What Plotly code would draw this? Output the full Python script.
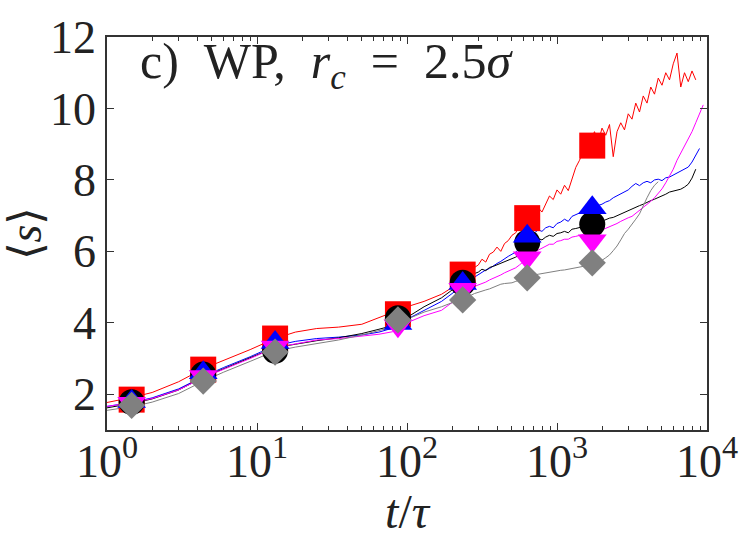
import plotly.graph_objects as go

# ---------------- data ----------------
t_early = [1, 1.5, 2, 3, 4.4, 6, 9, 13, 18, 25, 35, 50, 65, 80, 100, 130, 170, 220, 260]
t_late = [282, 299, 316, 335, 355, 376, 398, 422, 447, 473, 501, 531, 562, 596, 631, 668,
          708, 750, 794, 841, 891, 944, 1000, 1059, 1122, 1189, 1259, 1334, 1413, 1496,
          1585, 1679, 1778, 1884, 1995, 2113, 2239, 2371, 2512, 2661, 2818, 2985, 3162,
          3350, 3548, 3758, 3981, 4217, 4467, 4732, 5012, 5309, 5623, 5957, 6310, 6683,
          7079, 7499, 7943, 8414, 8913, 9441]

red_early = [1.77, 1.92, 2.05, 2.35, 2.72, 2.95, 3.25, 3.55, 3.74, 3.84, 3.88, 3.96, 4.15,
             4.3, 4.45, 4.6, 4.8, 5.1, 5.35]
red_late = [5.55, 5.62, 5.78, 5.7, 5.92, 5.98, 6.12, 6.0, 6.22, 6.3, 6.45, 6.52, 6.72, 6.82,
            6.9, 6.98, 7.1, 7.22, 7.1, 7.35, 7.55, 7.45, 7.72, 7.6, 7.85, 7.7, 8.05, 8.35,
            8.55, 8.8, 8.7, 9.1, 9.35, 9.05, 9.45, 9.25, 9.55, 8.65, 9.35, 9.6, 9.4, 9.85,
            9.7, 10.15, 9.9, 10.35, 10.15, 10.6, 10.4, 10.85, 10.65, 11.0, 10.8, 11.25,
            11.55, 10.6, 11.0, 10.75, 11.05, 10.8]

blue_early = [1.66, 1.78, 1.9, 2.15, 2.5, 2.75, 3.05, 3.35, 3.48, 3.56, 3.6, 3.66, 3.74,
              3.85, 4.1, 4.35, 4.6, 4.95, 5.15]
blue_late = [5.28, 5.35, 5.42, 5.48, 5.52, 5.6, 5.66, 5.72, 5.8, 5.86, 5.92, 5.98, 6.08, 6.2,
             6.35, 6.45, 6.52, 6.6, 6.56, 6.66, 6.7, 6.66, 6.78, 6.82, 6.9, 6.84, 6.98, 7.02,
             7.08, 7.12, 7.18, 7.14, 7.25, 7.28, 7.32, 7.38, 7.42, 7.5, 7.56, 7.62, 7.66,
             7.72, 7.82, 7.9, 7.84, 7.92, 7.96, 7.92, 8.0, 8.02, 7.98, 8.06, 8.08, 8.14, 8.2,
             8.24, 8.3, 8.36, 8.5, 8.68, 8.88]

black_early = [1.62, 1.75, 1.87, 2.12, 2.48, 2.72, 3.02, 3.3, 3.4, 3.5, 3.58, 3.7, 3.82,
               3.92, 4.15, 4.45, 4.7, 5.05, 5.25]
black_late = [5.38, 5.42, 5.5, 5.46, 5.55, 5.58, 5.62, 5.66, 5.7, 5.74, 5.78, 5.84, 5.9, 6.0,
              6.1, 6.2, 6.3, 6.36, 6.32, 6.4, 6.45, 6.42, 6.5, 6.52, 6.56, 6.52, 6.62, 6.64,
              6.66, 6.7, 6.72, 6.68, 6.78, 6.8, 6.85, 6.88, 6.93, 6.95, 7.0, 7.05, 7.08, 7.14,
              7.2, 7.24, 7.28, 7.32, 7.38, 7.42, 7.46, 7.5, 7.55, 7.6, 7.66, 7.68, 7.72, 7.74,
              7.8, 7.88, 8.05, 8.3]

magenta_early = [1.66, 1.77, 1.88, 2.12, 2.47, 2.7, 3.0, 3.3, 3.42, 3.52, 3.56, 3.62, 3.68,
                 3.75, 4.0, 4.2, 4.35, 4.7, 4.95]
magenta_late = [5.02, 5.06, 5.1, 5.14, 5.2, 5.24, 5.3, 5.34, 5.4, 5.44, 5.5, 5.54, 5.62, 5.7,
                5.8, 5.88, 5.98, 6.04, 6.1, 6.14, 6.2, 6.2, 6.28, 6.3, 6.34, 6.34, 6.4, 6.42,
                6.45, 6.48, 6.5, 6.52, 6.55, 6.58, 6.6, 6.64, 6.7, 6.74, 6.78, 6.84, 6.9, 6.94,
                6.98, 7.06, 7.15, 7.22, 7.3, 7.4, 7.5, 7.62, 7.75, 7.92, 8.1, 8.3, 8.55, 8.75,
                8.95, 9.15, 9.35, 9.6, 9.85, 10.1]

gray_early = [1.55, 1.66, 1.78, 2.02, 2.37, 2.62, 2.92, 3.2, 3.32, 3.42, 3.52, 3.66, 3.78,
              3.88, 4.1, 4.3, 4.45, 4.62, 4.75]
gray_late = [4.82, 4.86, 4.9, 4.92, 4.95, 5.0, 5.05, 5.08, 5.1, 5.11, 5.12, 5.16, 5.2, 5.24,
             5.28, 5.3, 5.34, 5.36, 5.38, 5.4, 5.42, 5.43, 5.45, 5.47, 5.48, 5.5, 5.52, 5.54,
             5.56, 5.58, 5.6, 5.65, 5.7, 5.72, 5.75, 5.82, 5.9, 6.02, 6.15, 6.32, 6.5, 6.62,
             6.75, 6.9, 7.05, 7.3, 7.5, 7.7, 7.85, 7.95]

t_marks = [1.46, 4.38, 13.2, 87, 235, 633, 1718]
red_marks = [1.85, 2.69, 3.56, 4.24, 5.35, 6.93, 8.96]
black_marks = [1.78, 2.55, 3.22, 4.13, 5.12, 6.25, 6.76]
blue_marks = [1.8, 2.6, 3.45, 3.98, 5.1, 6.42, 7.22]
magenta_marks = [1.75, 2.5, 3.32, 3.92, 4.94, 5.82, 6.3]
gray_marks = [1.69, 2.37, 3.18, 4.08, 4.64, 5.26, 5.68]

x_tickvals = [1, 10, 100, 1000, 10000]
x_ticktext = ["10<sup>0</sup>", "10<sup>1</sup>", "10<sup>2</sup>", "10<sup>3</sup>", "10<sup>4</sup>"]
y_tickvals = [2, 4, 6, 8, 10, 12]

# ---------------- figure ----------------
FONT = "Liberation Serif"
fig = go.Figure()

series = [
    ("red", red_early, red_late),
    ("blue", blue_early, blue_late),
    ("black", black_early, black_late),
    ("magenta", magenta_early, magenta_late),
    ("gray", gray_early, gray_late),
]
colors = {"red": "#ff0000", "blue": "#0000ff", "black": "#000000",
          "magenta": "#ff00ff", "gray": "#808080"}

for name, early, late in series:
    t = t_early + t_late[:len(late)]
    s = early + late
    fig.add_trace(go.Scatter(x=t, y=s, mode="lines",
                             line=dict(color=colors[name], width=1),
                             showlegend=False, hoverinfo="skip"))

marks = [
    ("red", red_marks, "square", 26),
    ("black", black_marks, "circle", 26),
    ("blue", blue_marks, "triangle-up", 25),
    ("magenta", magenta_marks, "triangle-down", 25),
    ("gray", gray_marks, "diamond", 21),
]
for name, vals, sym, size in marks:
    fig.add_trace(go.Scatter(x=t_marks, y=vals, mode="markers",
                             marker=dict(symbol=sym, size=size, color=colors[name],
                                         line=dict(width=0)),
                             showlegend=False))

minor_x = [2, 3, 4, 5, 6, 7, 8, 9, 20, 30, 40, 50, 60, 70, 80, 90,
           200, 300, 400, 500, 600, 700, 800, 900, 2000, 3000, 4000, 5000, 6000, 7000, 8000, 9000]

fig.update_layout(
    width=750, height=538,
    margin=dict(l=106, r=34, t=25, b=108),
    paper_bgcolor="white", plot_bgcolor="white",
    font=dict(family=FONT, color="#222222"),
    xaxis=dict(type="log", range=[0, 4], tickmode="array", tickvals=x_tickvals,
               ticktext=x_ticktext, ticks="inside", ticklen=7, tickcolor="#333333",
               showline=True, linecolor="#333333", linewidth=1.5, mirror="ticks",
               showgrid=False, zeroline=False, ticklabelstandoff=-10,
               tickfont=dict(family=FONT, size=46, color="#222222"),
               minor=dict(tickmode="array", tickvals=minor_x, ticks="inside",
                          ticklen=4, tickcolor="#333333", showgrid=False),
               title=dict(text="<i>t</i>/<i>τ</i>", font=dict(family=FONT, size=48),
                          standoff=0)),
    yaxis=dict(range=[1, 12], tickmode="array", tickvals=y_tickvals,
               ticks="inside", ticklen=7, tickcolor="#333333",
               showline=True, linecolor="#333333", linewidth=1.5, mirror="ticks",
               showgrid=False, zeroline=False,
               tickfont=dict(family=FONT, size=46, color="#222222"),
               title=dict(text="⟨<i>s</i>⟩", font=dict(family=FONT, size=46),
                          standoff=6)),
    annotations=[dict(text="c)&nbsp;&nbsp;WP,&nbsp;&nbsp;<i>r<sub>c</sub></i>&nbsp;&nbsp;=&nbsp;&nbsp;2.5<i>σ</i>",
                      xref="paper", yref="paper", x=0.052, y=0.928,
                      xanchor="left", yanchor="middle", showarrow=False,
                      font=dict(family=FONT, size=50, color="#222222"))],
)

fig.write_html("out.html")
